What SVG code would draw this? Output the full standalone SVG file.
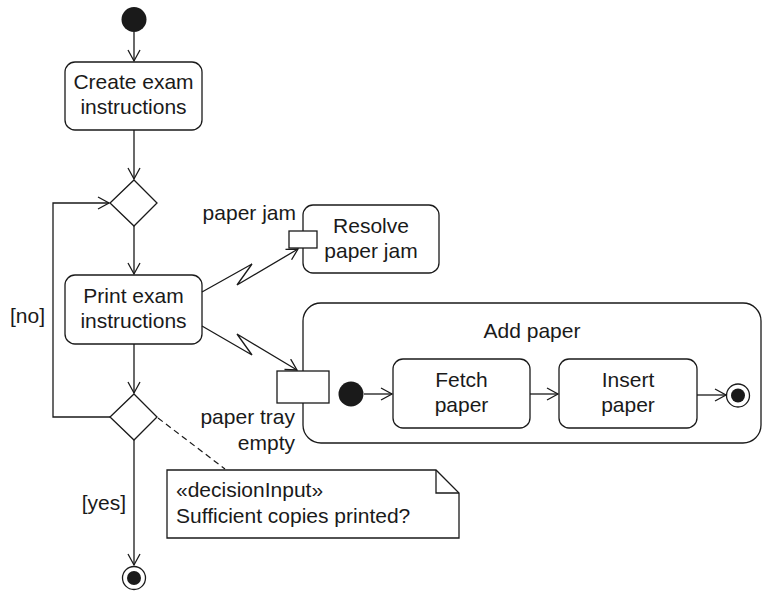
<svg xmlns="http://www.w3.org/2000/svg" width="762" height="593" viewBox="0 0 762 593">
<style>
.s{fill:#fff;stroke:#1a1a1a;stroke-width:1.3}
.f{fill:#1a1a1a}
.c{fill:none;stroke:#1a1a1a;stroke-width:1.3}
.d{fill:none;stroke:#1a1a1a;stroke-width:1.2;stroke-dasharray:6,4}
text{font-family:"Liberation Sans",Arial,sans-serif;font-size:21px;fill:#1a1a1a}
.m{text-anchor:middle}
.e{text-anchor:end}
</style>
<defs>
<marker id="a" markerUnits="userSpaceOnUse" markerWidth="14" markerHeight="14" viewBox="0 0 14 14" refX="12" refY="7" orient="auto">
<path d="M1,1 L12,7 L1,13" fill="none" stroke="#1a1a1a" stroke-width="1.3"/>
</marker>
</defs>
<rect width="762" height="593" fill="#fff"/>

<g id="start"><circle class="f" cx="134" cy="19.5" r="12.5"/></g>

<g id="create">
<rect class="s" x="65" y="62" width="137" height="68" rx="10"/>
<text class="m" x="133.5" y="89">Create exam</text>
<text class="m" x="133.5" y="114">instructions</text>
</g>

<g id="merge"><polygon class="s" points="134,180 157,203 134,226 110,203"/></g>

<g id="print">
<rect class="s" x="65" y="275" width="137" height="69" rx="10"/>
<text class="m" x="133.5" y="303">Print exam</text>
<text class="m" x="133.5" y="328">instructions</text>
</g>

<g id="decision"><polygon class="s" points="134,394 157,417 134,440 110,417"/></g>

<g id="label-no"><text x="10" y="323">[no]</text></g>
<g id="label-yes"><text class="e" x="126" y="510">[yes]</text></g>

<g id="final"><circle class="s" cx="134" cy="578" r="11.5"/><circle class="f" cx="134" cy="578" r="7"/></g>

<g id="resolve">
<rect class="s" x="303" y="205" width="136" height="68" rx="10"/>
<text class="m" x="371" y="233">Resolve</text>
<text class="m" x="371" y="258">paper jam</text>
<rect class="s" x="289" y="231" width="28" height="17"/>
<text class="e" x="296" y="220">paper jam</text>
</g>

<g id="addpaper">
<rect class="s" x="303" y="303" width="458" height="140" rx="18"/>
<text class="m" x="532" y="338">Add paper</text>
<rect class="s" x="277" y="371" width="52" height="32"/>
<text class="e" x="295" y="424">paper tray</text>
<text class="e" x="295" y="450">empty</text>
</g>

<g id="inner-start"><circle class="f" cx="351" cy="394" r="12.5"/></g>

<g id="fetch">
<rect class="s" x="393" y="359" width="137" height="69" rx="10"/>
<text class="m" x="461.5" y="387">Fetch</text>
<text class="m" x="461.5" y="412">paper</text>
</g>

<g id="insert">
<rect class="s" x="559" y="359" width="138" height="69" rx="10"/>
<text class="m" x="628" y="387">Insert</text>
<text class="m" x="628" y="412">paper</text>
</g>

<g id="inner-final"><circle class="s" cx="738" cy="395.5" r="11.5"/><circle class="f" cx="738" cy="395.5" r="7"/></g>

<g id="note">
<path class="s" d="M167,470 L436,470 L459,493 L459,538 L167,538 Z"/>
<path class="c" d="M436,470 L436,493 L459,493"/>
<text x="176" y="497">«decisionInput»</text>
<text x="176" y="523">Sufficient copies printed?</text>
</g>

<g id="connectors">
<line class="c" x1="134" y1="32" x2="134" y2="61" marker-end="url(#a)"/>
<line class="c" x1="134" y1="130" x2="134" y2="179" marker-end="url(#a)"/>
<line class="c" x1="134" y1="226" x2="134" y2="274" marker-end="url(#a)"/>
<line class="c" x1="134" y1="344" x2="134" y2="393" marker-end="url(#a)"/>
<polyline class="c" points="110,417 53,417 53,203 109,203" marker-end="url(#a)"/>
<line class="c" x1="134" y1="440" x2="134" y2="565" marker-end="url(#a)"/>
<polyline class="c" points="202,292 252,264 237,285 298,249" marker-end="url(#a)"/>
<polyline class="c" points="202,326 252,355 237,334 297,370" marker-end="url(#a)"/>
<line class="c" x1="364" y1="394" x2="392" y2="394" marker-end="url(#a)"/>
<line class="c" x1="530" y1="394" x2="558" y2="394" marker-end="url(#a)"/>
<line class="c" x1="697" y1="395" x2="726" y2="395" marker-end="url(#a)"/>
<line class="d" x1="158" y1="418" x2="225" y2="469"/>
</g>
</svg>
